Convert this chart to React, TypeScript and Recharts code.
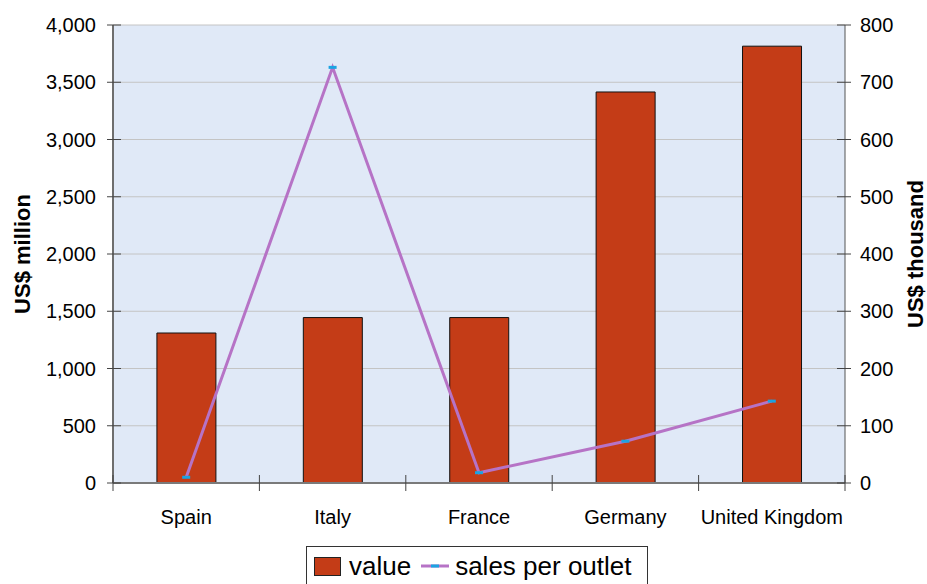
import React from "react"
import { ComposedChart, Bar, Line, XAxis, YAxis, CartesianGrid, Legend } from "recharts"

const countries = ["Spain", "Italy", "France", "Germany", "United Kingdom"]
const valueMillion = [1310, 1445, 1445, 3415, 3815]
const salesPerOutlet = [10, 726, 18, 73, 143]
const leftTicks = [0, 500, 1000, 1500, 2000, 2500, 3000, 3500, 4000]
const rightTicks = [0, 100, 200, 300, 400, 500, 600, 700, 800]

const data = countries.map((name, i) => ({
  name,
  value: valueMillion[i],
  sales: salesPerOutlet[i],
}))

const FONT = "'Liberation Sans', Arial, sans-serif"
const BAR = "#c43c17"
const LINE = "#b673c6"
const DOT = "#1ba3e2"

function LeftTick(props: any) {
  const { x, y, payload } = props
  return (
    <g>
      <line x1={x - 6} x2={x + 8} y1={y} y2={y} stroke="#444" />
      <text x={x - 17} y={y} dy="0.35em" textAnchor="end" fontSize={20} fontFamily={FONT} fill="#000">
        {Number(payload.value).toLocaleString("en-US")}
      </text>
    </g>
  )
}

function RightTick(props: any) {
  const { x, y, payload } = props
  return (
    <g>
      <line x1={x - 8} x2={x + 6} y1={y} y2={y} stroke="#444" />
      <text x={x + 15} y={y} dy="0.35em" textAnchor="start" fontSize={20} fontFamily={FONT} fill="#000">
        {payload.value}
      </text>
    </g>
  )
}

function CountryTick(props: any) {
  const { x, y, payload, index, visibleTicksCount } = props
  const half = payload.offset || 73.2
  return (
    <g>
      <line x1={x - half} x2={x - half} y1={y - 8} y2={y + 8} stroke="#444" />
      {index === visibleTicksCount - 1 && (
        <line x1={x + half} x2={x + half} y1={y - 8} y2={y + 8} stroke="#444" />
      )}
      <text x={x} y={y + 41} textAnchor="middle" fontSize={20} fontFamily={FONT} fill="#000">
        {payload.value}
      </text>
    </g>
  )
}

function SideLabel({ viewBox, text, side }: any) {
  const cx = side === "left" ? viewBox.x + 22 : viewBox.x + viewBox.width - 12
  const cy = viewBox.y + viewBox.height / 2
  return (
    <text
      x={cx}
      y={cy}
      dy="0.35em"
      transform={`rotate(-90, ${cx}, ${cy})`}
      textAnchor="middle"
      fontSize={22}
      fontWeight="bold"
      fontFamily={FONT}
      fill="#000"
    >
      {text}
    </text>
  )
}

function Marker(props: any) {
  const { cx, cy } = props
  if (cx == null || cy == null) return null
  return <rect x={cx - 4} y={cy - 1.5} width={8} height={3} fill={DOT} />
}

function LegendBox() {
  return (
    <div
      style={{
        border: "1px solid #333",
        height: 42,
        boxSizing: "border-box",
        display: "flex",
        alignItems: "center",
        paddingLeft: 7,
        paddingBottom: 2,
        fontFamily: FONT,
        fontSize: 26,
        lineHeight: "30px",
        color: "#000",
        background: "#fff",
        whiteSpace: "nowrap",
      }}
    >
      <span style={{ width: 27, height: 19, background: BAR, border: "1px solid #222", boxSizing: "border-box", marginRight: 8, flexShrink: 0 }} />
      <span>value</span>
      <svg width={28} height={10} style={{ margin: "0 6px 0 10px", flexShrink: 0 }}>
        <line x1={0} x2={28} y1={5} y2={5} stroke={LINE} strokeWidth={3} />
        <rect x={10} y={3.5} width={8} height={3} fill={DOT} />
      </svg>
      <span>sales per outlet</span>
    </div>
  )
}

export default function App() {
  return (
    <div style={{ position: "absolute", left: 0, top: 0, width: 927, height: 584, overflow: "hidden", background: "#fff" }}>
      <ComposedChart width={927} height={584} data={data} margin={{ top: 25, right: 0, bottom: 0, left: 0 }} barCategoryGap="30%">
        <CartesianGrid yAxisId="left" vertical={false} stroke="#c4c4c4" fill="#e0e9f7" />
        <XAxis
          dataKey="name"
          height={101}
          tickLine={false}
          tickSize={0}
          tickMargin={0}
          axisLine={{ stroke: "#7a7a7a", strokeWidth: 2 }}
          tick={<CountryTick />}
          interval={0}
        />
        <YAxis
          yAxisId="left"
          width={113}
          domain={[0, 4000]}
          ticks={leftTicks}
          interval={0}
          tickLine={false}
          tickSize={0}
          tickMargin={0}
          axisLine={{ stroke: "#6e6e6e", strokeWidth: 2 }}
          tick={<LeftTick />}
          label={<SideLabel text="US$ million" side="left" />}
        />
        <YAxis
          yAxisId="right"
          orientation="right"
          width={82}
          domain={[0, 800]}
          ticks={rightTicks}
          interval={0}
          tickLine={false}
          tickSize={0}
          tickMargin={0}
          axisLine={{ stroke: "#555" }}
          tick={<RightTick />}
          label={<SideLabel text="US$ thousand" side="right" />}
        />
        <Bar yAxisId="left" dataKey="value" fill={BAR} stroke="#111" strokeWidth={1} isAnimationActive={false} />
        <Line
          yAxisId="right"
          type="linear"
          dataKey="sales"
          stroke={LINE}
          strokeWidth={3}
          dot={<Marker />}
          activeDot={false}
          isAnimationActive={false}
        />
        <Legend
          layout="horizontal"
          verticalAlign="middle"
          align="center"
          content={<LegendBox />}
          wrapperStyle={{ left: 306, top: 546, width: 342, height: 42 }}
        />
      </ComposedChart>
    </div>
  )
}
